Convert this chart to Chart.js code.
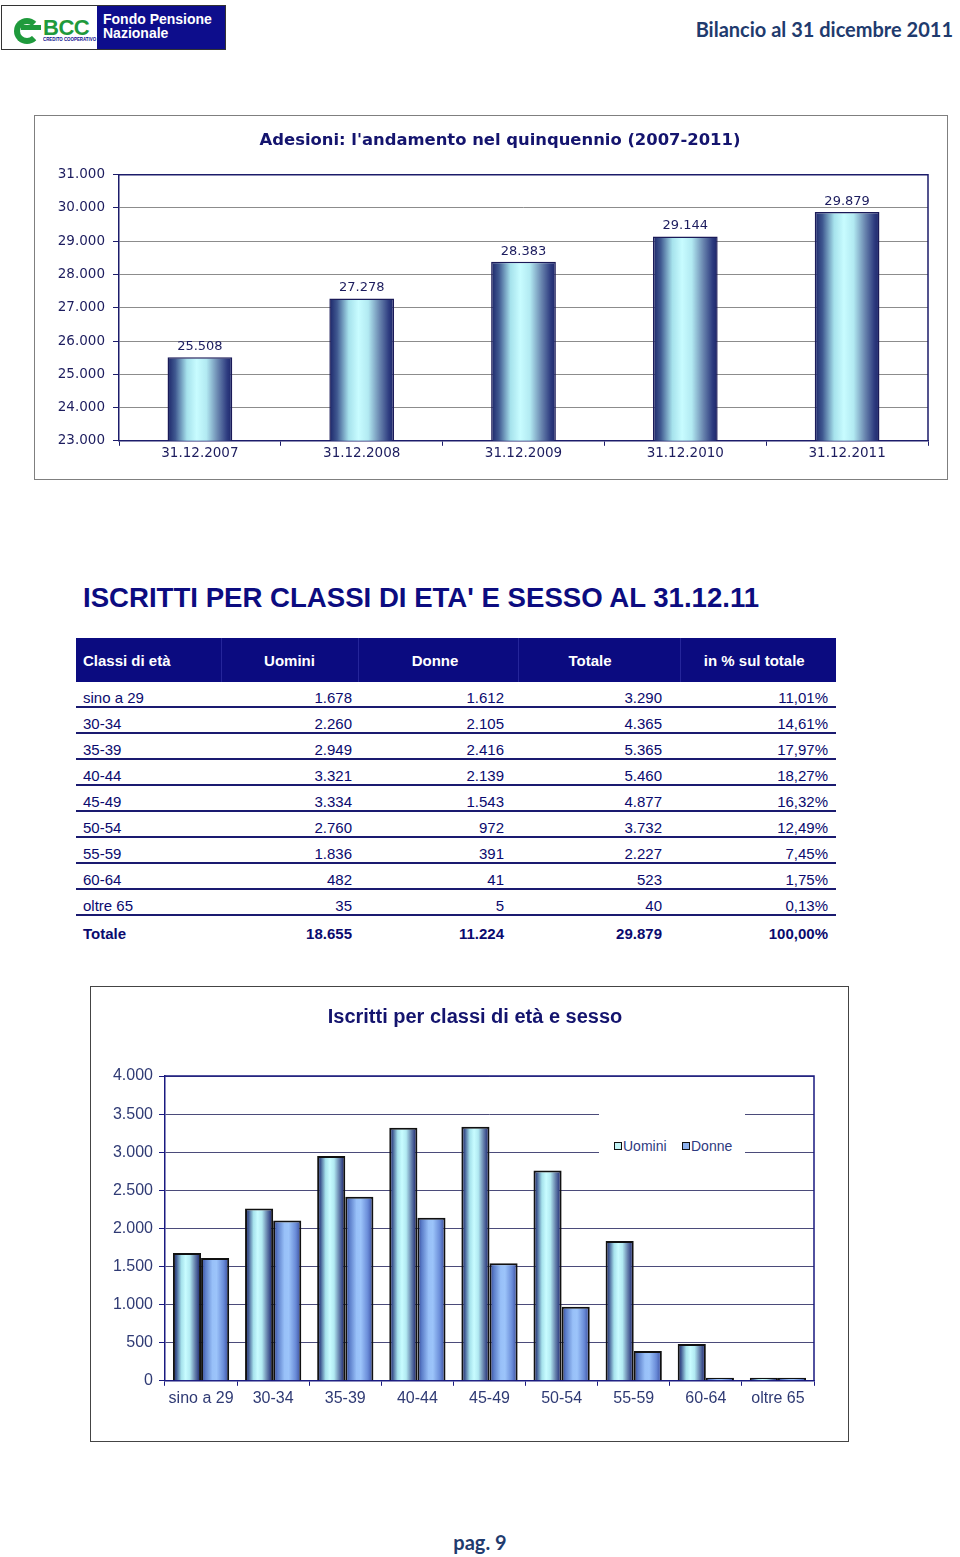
<!DOCTYPE html>
<html lang="it">
<head>
<meta charset="utf-8">
<title>Bilancio al 31 dicembre 2011 - pag. 9</title>
<script src="https://cdn.jsdelivr.net/npm/chart.js@4.4.1/dist/chart.umd.min.js"></script>
<style>
  body { margin: 0; width: 960px; height: 1557px; position: relative; background: #fff;
         font-family: 'Liberation Sans', Arial, sans-serif; overflow: hidden; }
  .abs { position: absolute; }

  /* ---- header ---- */
  #logo { left: 1px; top: 5px; width: 225px; height: 45px; border: 1px solid #333; box-sizing: border-box; background: #fff; overflow: hidden; }
  #logo .blue { position: absolute; left: 95px; top: 0; right: 0; bottom: 0; background: #0d0d8c; color: #fff;
                font-weight: bold; font-size: 14px; line-height: 14px; padding: 6px 0 0 6px; }
  #logo .ring { position: absolute; left: 12px; top: 12px; width: 14px; height: 14px; border: 6px solid #1f9a3c; border-radius: 50%; border-right-color: transparent; }
  #logo .bar { position: absolute; left: 19px; top: 19px; width: 20px; height: 5px; background: #1f9a3c; }
  #logo .bcc { position: absolute; left: 41px; top: 9px; color: #1f9a3c; font-weight: bold; font-size: 22px; letter-spacing: -0.5px; }
  #logo .cc { position: absolute; left: 41px; top: 31px; color: #0d0d8c; font-size: 8px; font-weight: bold; white-space: nowrap;
              transform: scale(0.55, 0.6); transform-origin: left top; }
  #docTitle { right: 7px; top: 17px; font-family: Lato, 'Open Sans', sans-serif; font-weight: 700; font-size: 20px; color: #1f3b6e; }

  /* ---- chart boxes ---- */
  #box1 { left: 34px; top: 115px; width: 914px; height: 365px; border: 1px solid #7f7f7f; box-sizing: border-box; }
  #box2 { left: 90px; top: 986px; width: 759px; height: 456px; border: 1px solid #444; box-sizing: border-box; }

  /* ---- table ---- */
  #tabTitle { left: 83px; top: 582px; font-size: 27.6px; font-weight: bold; color: #0c0c80; white-space: nowrap; }
  #tab { left: 76px; top: 638px; width: 760px; border-collapse: collapse; table-layout: fixed; font-size: 15px; color: #0a0a6e; }
  #tab th { background: #0b0b80; color: #fff; font-weight: bold; height: 44px; padding: 0; text-align: center; border-left: 1px solid #25259a; }
  #tab th:first-child { text-align: left; padding-left: 7px; border-left: none; }
  #tab td { height: 17px; line-height: 17px; padding: 7px 0 0 0; text-align: right; border-bottom: 2px solid #1a1a70; white-space: nowrap; }
  #tab td:first-child { text-align: left; padding-left: 7px; }
  #tab .c2 { padding-right: 6px; } #tab .c3 { padding-right: 14px; } #tab .c4 { padding-right: 18px; } #tab .c5 { padding-right: 8px; }
  #tab th.c2 { padding-right: 0; } #tab th.c3 { padding-right: 6px; }
  #tab tr.tot td { font-weight: bold; border-bottom: none; padding-top: 9px; }

  /* ---- legend overlay chart 2 ---- */
  #legend2 { left: 599px; top: 1109px; width: 146px; height: 46px; background: #fff; font-size: 14px; color: #2e3a80; }
  #legend2 span.it { position: absolute; top: 29px; line-height: 16px; white-space: nowrap; }
  #legend2 i { display: inline-block; width: 6px; height: 6px; border: 1.5px solid #111; margin-right: 1px; vertical-align: 1px; }

  #footer { left: 0; width: 960px; top: 1530px; text-align: center; font-family: Lato, 'Open Sans', sans-serif; font-weight: 700; font-size: 20px; color: #1f3b6e; }
</style>
</head>
<body>

<div id="logo" class="abs">
  <div class="ring"></div><div class="bar"></div>
  <div class="bcc">BCC</div>
  <div class="cc">CREDITO COOPERATIVO</div>
  <div class="blue">Fondo Pensione<br>Nazionale</div>
</div>
<div id="docTitle" class="abs">Bilancio al 31 dicembre 2011</div>

<div id="box1" class="abs"><canvas id="adesioniChart"></canvas></div>

<div id="tabTitle" class="abs">ISCRITTI PER CLASSI DI ETA' E SESSO AL 31.12.11</div>
<table id="tab" class="abs">
  <colgroup><col style="width:145px"><col style="width:137px"><col style="width:160px"><col style="width:162px"><col style="width:156px"></colgroup>
  <thead><tr><th>Classi di età</th><th class="c2">Uomini</th><th class="c3">Donne</th><th class="c4">Totale</th><th class="c5">in % sul totale</th></tr></thead>
  <tbody id="rows"></tbody>
</table>

<div id="box2" class="abs"><canvas id="classiChart"></canvas></div>
<div id="legend2" class="abs">
  <span class="it" style="left:15px"><i style="background:#c2f4f6"></i>Uomini</span>
  <span class="it" style="left:83px"><i style="background:#8eb2ee"></i>Donne</span>
</div>

<div id="footer" class="abs">pag. 9</div>

<script>
'use strict';

// ---- data: adesioni 2007-2011 ----
const yearLabels = ['31.12.2007', '31.12.2008', '31.12.2009', '31.12.2010', '31.12.2011'];
const adesioni = [25508, 27278, 28383, 29144, 29879];

// ---- data: iscritti per classi di eta' e sesso ----
const classiEta = ['sino a 29', '30-34', '35-39', '40-44', '45-49', '50-54', '55-59', '60-64', 'oltre 65'];
const uomini = [1678, 2260, 2949, 3321, 3334, 2760, 1836, 482, 35];
const donne = [1612, 2105, 2416, 2139, 1543, 972, 391, 41, 5];
const totali = [3290, 4365, 5365, 5460, 4877, 3732, 2227, 523, 40];
const percentuali = [11.01, 14.61, 17.97, 18.27, 16.32, 12.49, 7.45, 1.75, 0.13];
const totaliColonne = [18655, 11224, 29879, 100];

const NAVY = '#1c1c6a';

function fmt(n) {
  return String(n).replace(/\B(?=(\d{3})+(?!\d))/g, '.');
}
function fmtPct(v) {
  return v.toFixed(2).replace('.', ',') + '%';
}

// ---- table ----
function buildTable() {
  let html = '';
  classiEta.forEach((c, i) => {
    html += '<tr><td>' + c + '</td><td class="c2">' + fmt(uomini[i]) + '</td><td class="c3">' + fmt(donne[i]) +
            '</td><td class="c4">' + fmt(totali[i]) + '</td><td class="c5">' + fmtPct(percentuali[i]) + '</td></tr>';
  });
  html += '<tr class="tot"><td>Totale</td><td class="c2">' + fmt(totaliColonne[0]) + '</td><td class="c3">' + fmt(totaliColonne[1]) +
          '</td><td class="c4">' + fmt(totaliColonne[2]) + '</td><td class="c5">' + fmtPct(totaliColonne[3]) + '</td></tr>';
  document.getElementById('rows').innerHTML = html;
}

// ---- plugins ----
// horizontal "cylinder" shading for each bar
const gradientBars = {
  id: 'gradientBars',
  beforeDatasetsDraw(chart) {
    const ctx = chart.ctx;
    chart.data.datasets.forEach((ds, i) => {
      if (!ds.gradientStops) return;
      chart.getDatasetMeta(i).data.forEach(bar => {
        const g = ctx.createLinearGradient(bar.x - bar.width / 2, 0, bar.x + bar.width / 2, 0);
        ds.gradientStops.forEach(s => g.addColorStop(s[0], s[1]));
        bar.options = Object.assign({}, bar.options, { backgroundColor: g });
      });
    });
  },
};

// top + right border of the plot area
const plotFrame = {
  id: 'plotFrame',
  beforeDatasetsDraw(chart, args, opts) {
    const { ctx, chartArea: a } = chart;
    ctx.save();
    ctx.strokeStyle = opts.color || NAVY;
    ctx.lineWidth = opts.width || 1.5;
    ctx.beginPath();
    ctx.moveTo(a.left, a.top);
    ctx.lineTo(a.right, a.top);
    ctx.lineTo(a.right, a.bottom);
    ctx.stroke();
    ctx.restore();
  },
};

// value labels above bars
const valueLabels = {
  id: 'valueLabels',
  afterDatasetsDraw(chart, args, opts) {
    const ctx = chart.ctx;
    ctx.save();
    ctx.font = opts.font;
    ctx.fillStyle = opts.color;
    ctx.textAlign = 'center';
    ctx.textBaseline = 'bottom';
    chart.getDatasetMeta(0).data.forEach((bar, i) => {
      ctx.fillText(fmt(chart.data.datasets[0].data[i]), bar.x, bar.y - 4);
    });
    ctx.restore();
  },
};

// empty right axis, only to reserve space so the title centres like the original
function spacerAxis(width) {
  return {
    type: 'linear',
    position: 'right',
    grid: { display: false, drawTicks: false },
    border: { display: false },
    ticks: { display: false },
    afterFit: s => { s.width = width; },
  };
}

const STOPS_CYAN = [[0, '#1b2468'], [0.12, '#3f5890'], [0.3, '#a6e2ec'], [0.45, '#c8fcff'], [0.6, '#b2eaf2'],
                    [0.78, '#6884ae'], [0.92, '#2e3c80'], [1, '#1b2468']];
const STOPS_BLUE = [[0, '#2c3c8c'], [0.15, '#5a7cc8'], [0.4, '#98c0f8'], [0.55, '#9cc4fa'], [0.8, '#6a8cd8'], [1, '#34479a']];

// ---- Adesioni chart ----
function initAdesioniChart() {
  const tickFont = { family: 'DejaVu Sans', size: 13.5 };
  new Chart(document.getElementById('adesioniChart'), {
    type: 'bar',
    data: {
      labels: yearLabels,
      datasets: [{
        label: 'Adesioni',
        data: adesioni,
        gradientStops: STOPS_CYAN,
        borderColor: '#1a1a58',
        borderWidth: 1.5,
        categoryPercentage: 0.8,
        barPercentage: 0.5,
      }],
    },
    options: {
      responsive: true,
      maintainAspectRatio: false,
      animation: false,
      layout: { padding: { left: 18, right: 0, top: 0, bottom: 17 } },
      plugins: {
        legend: { display: false },
        tooltip: { enabled: false },
        title: {
          display: true,
          text: "Adesioni: l'andamento nel quinquennio (2007-2011)",
          color: '#14146e',
          font: { family: 'DejaVu Sans', size: 16.4, weight: 'bold' },
          padding: { top: 15, bottom: 24 },
        },
        valueLabels: { font: '13px "DejaVu Sans"', color: '#1c1c5e' },
        plotFrame: { color: NAVY, width: 1.5 },
      },
      scales: {
        x: {
          grid: { drawOnChartArea: false, tickLength: 5, color: NAVY },
          border: { color: NAVY, width: 1.5 },
          ticks: { color: '#1c1c5e', font: tickFont, padding: 0 },
        },
        y: {
          min: 23000,
          max: 31000,
          grid: { color: '#8c8c8c', tickColor: NAVY, tickLength: 6 },
          border: { color: NAVY, width: 1.5 },
          ticks: { stepSize: 1000, callback: v => fmt(v), color: '#1c1c5e', font: tickFont, padding: 8 },
          afterFit: s => { s.width = 66; },
        },
        yR: spacerAxis(19),
      },
    },
    plugins: [gradientBars, plotFrame, valueLabels],
  });
}

// ---- Iscritti per classi chart ----
function initClassiChart() {
  const tickFont = { family: 'Liberation Sans', size: 16 };
  new Chart(document.getElementById('classiChart'), {
    type: 'bar',
    data: {
      labels: classiEta,
      datasets: [
        {
          label: 'Uomini',
          data: uomini,
          gradientStops: STOPS_CYAN,
          borderColor: '#111',
          borderWidth: 2,
          categoryPercentage: 0.78,
          barPercentage: 1,
          minBarLength: 3,
        },
        {
          label: 'Donne',
          data: donne,
          gradientStops: STOPS_BLUE,
          borderColor: '#111',
          borderWidth: 2,
          categoryPercentage: 0.78,
          barPercentage: 1,
          minBarLength: 3,
        },
      ],
    },
    options: {
      responsive: true,
      maintainAspectRatio: false,
      animation: false,
      layout: { padding: { left: 11, right: 0, top: 0, bottom: 30 } },
      plugins: {
        legend: { display: false },
        tooltip: { enabled: false },
        title: {
          display: true,
          text: 'Iscritti per classi di età e sesso',
          color: '#14146e',
          font: { family: 'Liberation Sans', size: 20, weight: 'bold' },
          padding: { top: 18, bottom: 47 },
        },
        plotFrame: { color: '#1a1a80', width: 1.5 },
      },
      scales: {
        x: {
          grid: { drawOnChartArea: false, tickLength: 5, color: '#1a1a80' },
          border: { color: '#1a1a80', width: 1.5 },
          ticks: { color: '#2f3a74', font: tickFont, padding: 3 },
        },
        y: {
          min: 0,
          max: 4000,
          grid: { color: '#4b4b7a', tickColor: '#1a1a80', tickLength: 6 },
          border: { color: '#1a1a80', width: 1.5 },
          ticks: { stepSize: 500, callback: v => fmt(v), color: '#2f3a74', font: tickFont, padding: 6 },
          afterFit: s => { s.width = 63; },
        },
        yR: spacerAxis(34),
      },
    },
    plugins: [gradientBars, plotFrame],
  });
}

buildTable();
initAdesioniChart();
initClassiChart();
</script>
</body>
</html>
